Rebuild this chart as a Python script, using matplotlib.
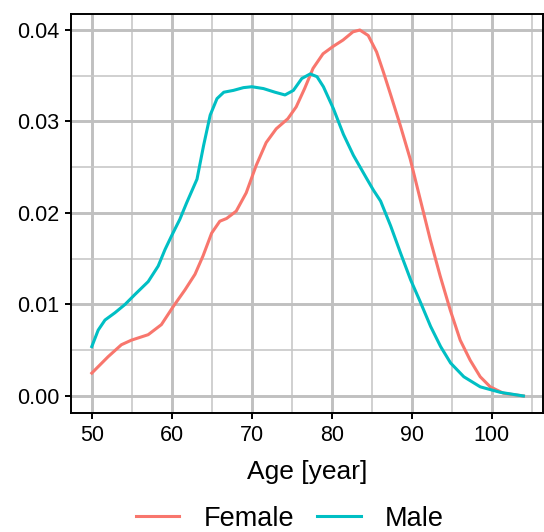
import matplotlib.pyplot as plt
import numpy as np

plt.rcParams['font.family'] = ['Liberation Sans', 'DejaVu Sans']

# density estimates
female_age = [50.0, 52.05, 53.7, 54.95, 57.05, 58.7, 60.2, 61.65, 62.9, 63.9, 64.98,
              66.0, 66.85, 68.05, 69.3, 70.55, 71.8, 73.05, 74.5, 75.55, 76.6, 77.65,
              78.9, 80.15, 81.4, 82.65, 83.5, 84.55, 85.6, 86.45, 87.4, 88.55, 89.8,
              91.05, 92.3, 93.55, 94.8, 96.05, 97.3, 98.55, 99.8, 101.45, 103.95]
female_dens = [0.0025, 0.0043, 0.0056, 0.0061, 0.0067, 0.0078, 0.0098, 0.0116, 0.0133,
               0.0153, 0.0178, 0.0191, 0.0194, 0.0202, 0.0222, 0.0252, 0.0277, 0.0292,
               0.0303, 0.0316, 0.0336, 0.0358, 0.0374, 0.0382, 0.0389, 0.0398, 0.0400,
               0.0394, 0.0376, 0.0354, 0.0328, 0.0296, 0.0259, 0.0215, 0.0171, 0.0131,
               0.0094, 0.0061, 0.0039, 0.0021, 0.0010, 0.0003, 0.0000]

male_age = [50.0, 50.8, 51.65, 52.9, 54.15, 55.4, 57.05, 58.3, 59.15, 59.97, 61.0,
            61.85, 63.15, 63.98, 64.8, 65.65, 66.5, 67.7, 68.95, 70.0, 71.45, 72.9,
            74.15, 75.2, 76.25, 77.3, 78.15, 78.95, 80.2, 81.45, 82.7, 84.4, 85.2, 86.1,
            87.35, 88.6, 89.85, 91.1, 92.35, 93.6, 94.85, 96.5, 98.55, 101.05, 103.95]
male_dens = [0.0054, 0.0072, 0.0083, 0.0091, 0.0100, 0.0111, 0.0125, 0.0142, 0.0160,
             0.0175, 0.0193, 0.0211, 0.0237, 0.0274, 0.0307, 0.0325, 0.0332, 0.0334,
             0.0337, 0.0338, 0.0336, 0.0332, 0.0329, 0.0334, 0.0347, 0.0352, 0.0349,
             0.0338, 0.0314, 0.0286, 0.0263, 0.0237, 0.0225, 0.0213, 0.0186, 0.0156,
             0.0127, 0.0102, 0.0076, 0.0054, 0.0036, 0.0021, 0.0010, 0.0004, 0.0000]

xticks = [50, 60, 70, 80, 90, 100]
yticks = [0.00, 0.01, 0.02, 0.03, 0.04]

fig = plt.figure(figsize=(5.44, 5.32), dpi=100)
ax = fig.add_axes([0.1305, 0.2237, 0.8677, 0.75])

ax.plot(female_age, female_dens, color='#F8766D', lw=2.2, label='Female', zorder=3,
        solid_joinstyle='round')
ax.plot(male_age, male_dens, color='#00BFC4', lw=2.2, label='Male', zorder=3,
        solid_joinstyle='round')

ax.set_xlim(47.4, 106.4)
ax.set_ylim(-0.00186, 0.04175)
ax.set_xticks(xticks)
ax.set_yticks(yticks)
ax.set_yticklabels(['%.2f' % v for v in yticks])
ax.set_xticks([55, 65, 75, 85, 95, 105], minor=True)
ax.set_yticks([0.005, 0.015, 0.025, 0.035], minor=True)
ax.grid(which='major', color='#C0C0C0', lw=2.1)
ax.grid(which='minor', color='#C8C8C8', lw=1.2)
ax.set_axisbelow(True)
for s in ax.spines.values():
    s.set_linewidth(1.4)
ax.tick_params(which='major', length=4.5, width=1.4, labelsize=15.5, colors='black', pad=4)
ax.tick_params(which='minor', length=0)
ax.set_xlabel('Age [year]', fontsize=19, labelpad=10)

fig.legend(loc='lower center', bbox_to_anchor=(0.533, -0.045), ncol=2, frameon=False,
           fontsize=19.5, handlelength=1.6, columnspacing=0.85, handletextpad=0.9)

fig.savefig('out.png', dpi=100)
